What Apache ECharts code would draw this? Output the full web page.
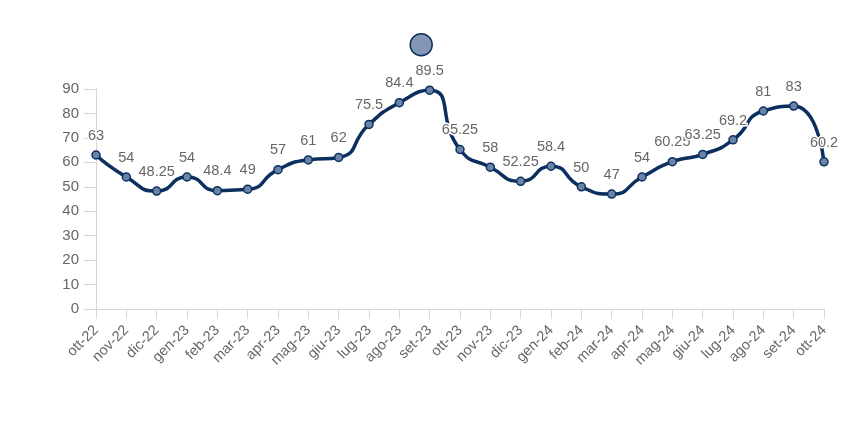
<!DOCTYPE html>
<html><head><meta charset="utf-8">
<script src="https://cdn.jsdelivr.net/npm/echarts@6/dist/echarts.min.js"></script>
<style>html,body{margin:0;padding:0;background:#fff}#c{width:850px;height:425px}</style>
</head><body><div id="c"></div>
<script>
const categories = ['ott-22','nov-22','dic-22','gen-23','feb-23','mar-23','apr-23','mag-23','giu-23','lug-23','ago-23','set-23','ott-23','nov-23','dic-23','gen-24','feb-24','mar-24','apr-24','mag-24','giu-24','lug-24','ago-24','set-24','ott-24'];
const values = [63,54,48.25,54,48.4,49,57,61,62,75.5,84.4,89.5,65.25,58,52.25,58.4,50,47,54,60.25,63.25,69.2,81,83,60.2];
const yTicks = {min:0, max:90, interval:10};
const chart = echarts.init(document.getElementById('c'), null, {renderer:'canvas'});
chart.setOption({
  animation:false,
  legend:{top:28, left:'center', icon:'circle', itemWidth:22, itemHeight:22,
    itemStyle:{color:'#8397b4', borderColor:'#0b2f5e', borderWidth:1.5},
    textStyle:{fontSize:12}, data:[' ']},
  grid:{left:96, right:26, top:89, bottom:116},
  xAxis:{type:'category', data:categories, boundaryGap:false,
    axisLine:{lineStyle:{color:'#d6d6d6'}}, axisTick:{show:true, alignWithLabel:true, length:10, lineStyle:{color:'#d6d6d6'}},
    axisLabel:{rotate:45, color:'#666', fontSize:14.5, fontFamily:'Liberation Sans, Arial', margin:19}},
  yAxis:{type:'value', min:yTicks.min, max:yTicks.max, interval:yTicks.interval,
    axisLine:{show:true, lineStyle:{color:'#d6d6d6'}}, axisTick:{show:true, length:12, lineStyle:{color:'#d6d6d6'}},
    splitLine:{show:false},
    axisLabel:{color:'#666', fontSize:15, fontFamily:'Liberation Sans, Arial', margin:17}},
  series:[{name:' ', type:'line', data:values, smooth:0.6,
    lineStyle:{color:'#0b2f5e', width:3.5},
    symbol:'circle', symbolSize:8,
    itemStyle:{color:'#6a84a8', borderColor:'#0b2f5e', borderWidth:1.5},
    label:{show:true, position:'top', distance:7, color:'#666', fontSize:14.5, fontFamily:'Liberation Sans, Arial',
      textBorderColor:'#fff', textBorderWidth:3}}]
});
</script></body></html>
